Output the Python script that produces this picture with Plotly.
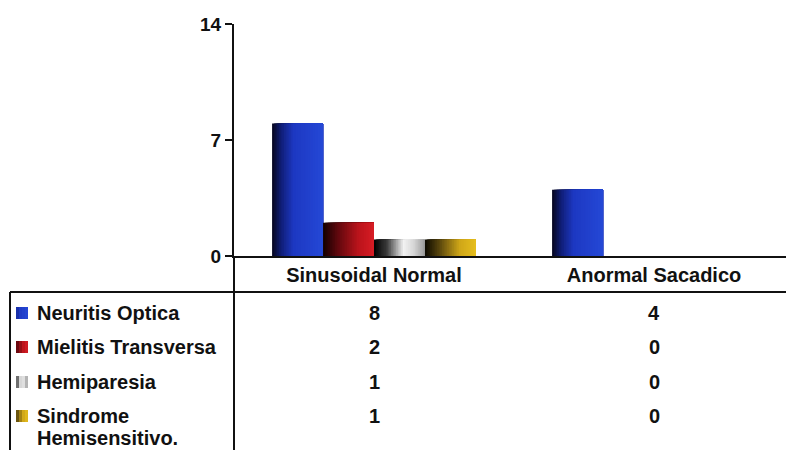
import plotly.graph_objects as go

# ---- data ----
categories = ["Sinusoidal Normal", "Anormal Sacadico"]
series_names = ["Neuritis Optica", "Mielitis Transversa", "Hemiparesia",
                "Sindrome", "Hemisensitivo."]
neuritis_optica = [8, 4]
mielitis_transversa = [2, 0]
hemiparesia = [1, 0]
sindrome_hemisensitivo = [1, 0]
y_tick_values = [0, 7, 14]

series_values = [neuritis_optica, mielitis_transversa, hemiparesia, sindrome_hemisensitivo]

# horizontal shading of each bar (position across the bar, colour)
gradients = [
    [(0.0, "#06061c"), (0.18, "#101e78"), (0.42, "#1d38c2"), (1.0, "#2548d6")],
    [(0.0, "#120000"), (0.3, "#62080e"), (0.7, "#bc141c"), (1.0, "#d61c24")],
    [(0.0, "#000000"), (0.25, "#3a3a3a"), (0.58, "#f2f2f2"), (0.78, "#d6d6d6"), (1.0, "#9a9a9a")],
    [(0.0, "#0a0800"), (0.3, "#5e4a0e"), (0.68, "#cfa618"), (1.0, "#e6be1e")],
]

FONT = "Arial, Liberation Sans, sans-serif"
W, H = 786, 450
L, R, T, B = 234, 0, 24, 194
PW, PH = W - L - R, H - T - B


def hex2rgb(h):
    h = h.lstrip("#")
    return tuple(int(h[i:i + 2], 16) for i in (0, 2, 4))


def shade(stops, t):
    for (p0, c0), (p1, c1) in zip(stops, stops[1:]):
        if p0 <= t <= p1:
            f = (t - p0) / (p1 - p0) if p1 > p0 else 0
            a, b = hex2rgb(c0), hex2rgb(c1)
            return "rgb(%d,%d,%d)" % tuple(round(a[i] + (b[i] - a[i]) * f) for i in range(3))
    return stops[-1][1]


def px_x(x):
    return (x - L) / PW


def px_y(y):
    return (H - B - y) / PH


fig = go.Figure()

bar_w = 0.182
group_start = -0.364
n_slices = 30
slice_w = bar_w / n_slices

# each bar is built from stacked-over strips: strip k starts k steps in and runs to
# the bar's right edge, so later strips cover earlier ones without seams
for s, (vals, stops) in enumerate(zip(series_values, gradients)):
    xs, ys, offs, widths, cols = [], [], [], [], []
    for cat, v in zip(categories, vals):
        for k in range(n_slices):
            xs.append(cat)
            ys.append(v)
            offs.append(group_start + s * bar_w + k * slice_w)
            widths.append(bar_w - k * slice_w)
            cols.append(shade(stops, (k + 0.5) / n_slices))
    fig.add_trace(go.Bar(
        x=xs, y=ys, offset=offs, width=widths,
        marker=dict(color=cols, line=dict(width=0)),
        showlegend=False, hoverinfo="skip",
    ))

# ---- data table below the axis ----
row_y = [313, 347, 382, 416]
shapes = [
    # axis line continues through the table
    dict(type="line", xref="paper", yref="paper", x0=0, x1=0, y0=0, y1=px_y(452),
         line=dict(color="#111", width=2)),
    # table top border
    dict(type="line", xref="paper", yref="paper", x0=px_x(10), x1=1.01, y0=px_y(292), y1=px_y(292),
         line=dict(color="#111", width=2)),
    # table left border
    dict(type="line", xref="paper", yref="paper", x0=px_x(10), x1=px_x(10), y0=px_y(292), y1=px_y(452),
         line=dict(color="#111", width=2)),
]
annotations = []
label_font = dict(family=FONT, size=20, color="#111", weight="bold")
for i, (vals, stops) in enumerate(zip(series_values, gradients)):
    cy = row_y[i]
    # legend key: small shaded square
    n_key = 4
    for k in range(n_key):
        shapes.append(dict(
            type="rect", xref="paper", yref="paper",
            x0=px_x(16 + k * 3), x1=px_x(16 + (k + 1) * 3),
            y0=px_y(cy - 6), y1=px_y(cy + 6),
            fillcolor=shade(stops, 0.25 + 0.75 * (k + 0.5) / n_key), line=dict(width=0),
        ))
    annotations.append(dict(
        text=series_names[i], xref="paper", yref="paper", x=px_x(35), y=px_y(cy),
        xanchor="left", yanchor="middle", showarrow=False, font=label_font,
    ))
    for cat, v in zip(categories, vals):
        annotations.append(dict(
            text=str(v), xref="x", yref="paper", x=cat, y=px_y(cy),
            xanchor="center", yanchor="middle", showarrow=False, font=label_font,
        ))
# second line of the last row label
annotations.append(dict(
    text=series_names[4], xref="paper", yref="paper", x=px_x(35), y=px_y(438),
    xanchor="left", yanchor="middle", showarrow=False, font=label_font,
))

fig.update_layout(
    width=W, height=H,
    margin=dict(l=L, r=R, t=T, b=B),
    paper_bgcolor="white", plot_bgcolor="white",
    barmode="overlay",
    xaxis=dict(
        type="category", categoryorder="array", categoryarray=categories,
        range=[-0.5, 1.5 - (280 * 2 - PW) / 280],
        showline=True, linecolor="#111", linewidth=2,
        ticks="", showgrid=False, zeroline=False,
        tickfont=dict(family=FONT, size=20, color="#111", weight="bold"),
    ),
    yaxis=dict(
        range=[0, 14], tickvals=y_tick_values,
        showline=True, linecolor="#111", linewidth=2,
        ticks="outside", ticklen=7, tickwidth=2, tickcolor="#111",
        showgrid=False, zeroline=False,
        tickfont=dict(family=FONT, size=19, color="#111", weight="bold"),
    ),
    shapes=shapes,
    annotations=annotations,
)

fig.write_html("out.html")
